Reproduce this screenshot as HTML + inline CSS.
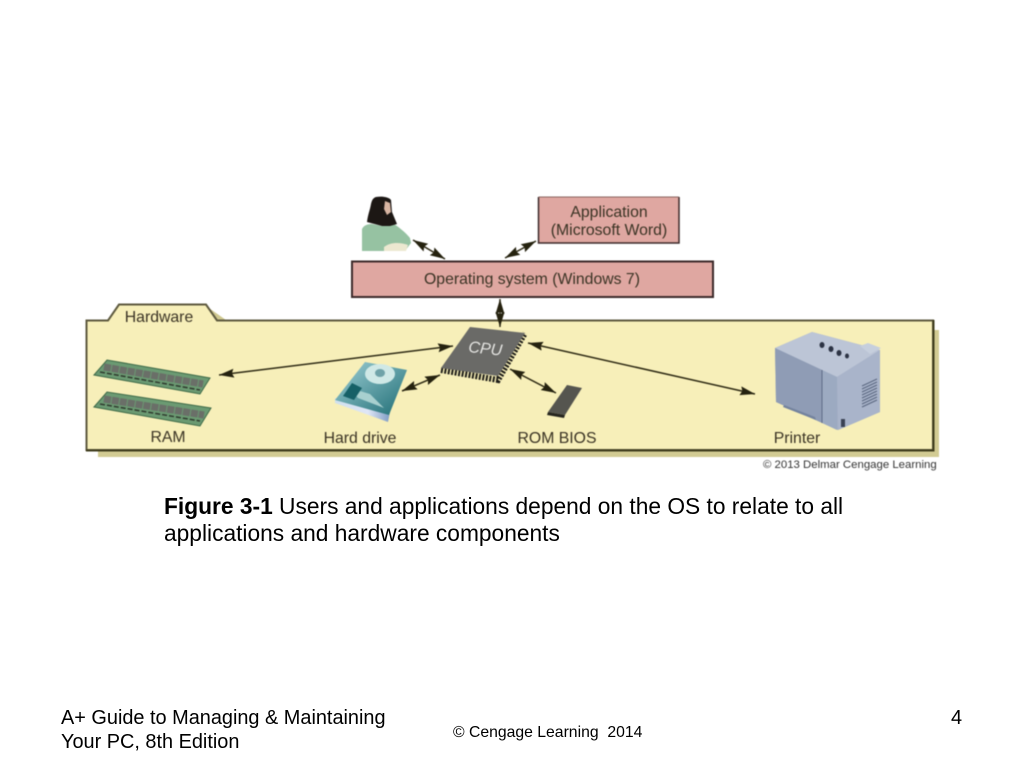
<!DOCTYPE html>
<html>
<head>
<meta charset="utf-8">
<style>
html,body{margin:0;padding:0;background:#fff}
body{width:1024px;height:768px;overflow:hidden;position:relative;font-family:"Liberation Sans",sans-serif}
svg{position:absolute;left:0;top:0;filter:blur(0.45px)}
.t{position:absolute;color:#000;white-space:nowrap}
</style>
</head>
<body>
<svg width="1024" height="768" viewBox="0 0 1024 768" font-family="Liberation Sans, sans-serif">
<defs>
<marker id="a" markerWidth="15" markerHeight="10" refX="15" refY="5" orient="auto-start-reverse" markerUnits="userSpaceOnUse"><path d="M0 0.500 L15 5 L0 9.500 L2 5 Z" fill="#25220f"/></marker>
<linearGradient id="hd" x1="0" y1="0" x2="1" y2="1"><stop offset="0" stop-color="#9fd0d6"/><stop offset="1" stop-color="#1f6d75"/></linearGradient>
<linearGradient id="hb" x1="0" y1="0" x2="1" y2="0"><stop offset="0" stop-color="#cfe0ee"/><stop offset="0.6" stop-color="#dfe6f6"/><stop offset="1" stop-color="#7f9cc4"/></linearGradient>
</defs>
<!-- shadow -->
<path d="M98 330H939V457H98Z" fill="#d2cb93"/>
<path d="M206 306L226 320H212Z" fill="#cfc88f"/>
<!-- folder -->
<path d="M86.500 320.500H108L119 304.500H206L217 320.500H933V450H86.500Z" fill="#f7efb9" stroke="#5e5a3f" stroke-width="2"/>
<path d="M86 450.500H933.500V320" fill="none" stroke="#3f3c1c" stroke-width="2"/>
<!-- boxes -->
<path d="M538.500 197V243H679V197" fill="#dfa7a1" stroke="#3c2a2a" stroke-width="1.500"/>
<path d="M538.500 197H679" stroke="#8a6660" stroke-width="1"/>
<rect x="352" y="261.500" width="361" height="35.500" fill="#dfa7a1" stroke="#3c2a2a" stroke-width="2"/>
<!-- person -->
<path d="M362 251V229C364 225 368 224 372 224L382 226L394 224C400 228 406 233 410 238L411 243L405 251Z" fill="#96c2a2"/>
<path d="M384 247C390 242 400 242 408 245L406 251H384Z" fill="#ece8d0"/>
<path d="M376 197C382 196 389 197 391 200L392 212L397 224L390 226L382 226L367 222C368 214 370 210 371 204C372 200 373 198 376 197Z" fill="#1c1714"/>
<path d="M385 201L390 203L391 212L387 215L384 209Z" fill="#d8b5a2"/>
<!-- RAM -->
<g>
<path d="M94 375L107 360L210 378L200 394Z" fill="#6b9a72" stroke="#3e6a48"/>
<path d="M104 367L203 384" stroke="#6a6f68" stroke-width="7" stroke-dasharray="7 1" fill="none"/>
<path d="M100 372L200 390" stroke="#2f3a2e" stroke-width="1.500" stroke-dasharray="5 2" fill="none"/>
<path d="M94 407L107 392L211 408L200 426Z" fill="#6b9a72" stroke="#3e6a48"/>
<path d="M104 399L204 415" stroke="#6a6f68" stroke-width="7" stroke-dasharray="7 1" fill="none"/>
<path d="M100 404L200 421" stroke="#2f3a2e" stroke-width="1.500" stroke-dasharray="5 2" fill="none"/>
</g>
<!-- Hard drive -->
<path d="M335 398L390 412L388 422L335 403Z" fill="url(#hb)"/>
<path d="M335 400L365 362L407 370L389 415Z" fill="url(#hd)"/>
<ellipse cx="380" cy="374" rx="15" ry="10" fill="#cfe8e6"/>
<ellipse cx="380" cy="373" rx="5" ry="4" fill="#6fa2a8"/>
<path d="M350 388L370 394L384 408L358 398Z" fill="#a8d0cf"/>
<path d="M343 396L352 383L362 388L354 400Z" fill="#166067"/>
<!-- CPU -->
<path d="M441 370L498 380L525 333" fill="none" stroke="#1f1e19" stroke-width="6" stroke-dasharray="2 1.500"/>
<path d="M441 368L470 327L525 333L498 376Z" fill="#6a6a67"/>
<text x="468" y="352" font-size="16" font-style="italic" fill="#e6e6e3" transform="rotate(6 468 352)">CPU</text>
<!-- ROM -->
<path d="M548 412L567 385L582 388L565 415Z" fill="#55554f"/>
<path d="M548 412L565 415L564 418L547 415Z" fill="#26261f"/>
<!-- Printer -->
<path d="M775 348L812 332L880 350L880 412L838 430L776 402Z" fill="#a0acc2"/>
<path d="M775 348L812 332L880 350L837 377Z" fill="#bcc5d6"/>
<path d="M775 348L822 370V423L776 402Z" fill="#8f9cb5"/>
<path d="M822 370L837 377V430L822 423Z" fill="#9caac1"/>
<path d="M837 377L880 350V412L838 430Z" fill="#a9b4ca"/>
<path d="M822 370V423" stroke="#5e6c86" stroke-width="1"/>
<path d="M784 405L815 417L816 420L783 407Z" fill="#74839e"/>
<g stroke="#59667f" stroke-width="1"><path d="M862 386L877 379M862 389L877 382M862 392L877 385M862 395L877 388M862 398L877 391M862 401L877 394M862 404L877 397M862 407L877 400"/></g>
<g fill="#2c3344"><ellipse cx="822" cy="345" rx="2.500" ry="3"/><ellipse cx="831" cy="349" rx="2.500" ry="3"/><ellipse cx="839" cy="353" rx="2.500" ry="3"/><ellipse cx="847" cy="356" rx="2" ry="2.500"/></g>
<path d="M860 346L868 343L881 348L870 354Z" fill="#c6cfdd"/>
<rect x="841" y="419" width="4" height="8" fill="#3a4254"/>
<!-- arrows -->
<g stroke="#2e2a14" stroke-width="1.500" fill="none">
<line x1="413" y1="240" x2="445" y2="259" marker-start="url(#a)" marker-end="url(#a)"/>
<line x1="536" y1="241" x2="505" y2="258" marker-start="url(#a)" marker-end="url(#a)"/>
<line x1="500" y1="299" x2="500" y2="327" marker-start="url(#a)" marker-end="url(#a)"/>
<line x1="219" y1="375" x2="453" y2="346" marker-start="url(#a)" marker-end="url(#a)"/>
<line x1="402" y1="391" x2="440" y2="375" marker-start="url(#a)" marker-end="url(#a)"/>
<line x1="510" y1="369" x2="556" y2="393" marker-start="url(#a)" marker-end="url(#a)"/>
<line x1="528" y1="343" x2="755" y2="394" marker-start="url(#a)" marker-end="url(#a)"/>
</g>
<!-- labels -->
<g fill="#3a3324" font-size="15.800" text-anchor="middle">
<text x="609" y="217">Application</text>
<text x="609" y="235">(Microsoft Word)</text>
<text x="532" y="284">Operating system (Windows 7)</text>
<text x="159" y="322">Hardware</text>
<text x="168" y="442">RAM</text>
<text x="360" y="443">Hard drive</text>
<text x="557" y="443">ROM BIOS</text>
<text x="797" y="443">Printer</text>
</g>
<text x="763" y="468" font-size="11.400" fill="#333">© 2013 Delmar Cengage Learning</text>
</svg>
<div class="t" style="left:164px;top:493px;font-size:22.750px;line-height:27px"><b>Figure 3-1</b> Users and applications depend on the OS to relate to all<br>applications and hardware components</div>
<div class="t" style="left:61px;top:706px;font-size:19.900px;line-height:24px">A+ Guide to Managing &amp; Maintaining<br>Your PC, 8th Edition</div>
<div class="t" style="left:453px;top:724px;font-size:15.750px;line-height:17px;white-space:pre">© Cengage Learning  2014</div>
<div class="t" style="left:951px;top:706px;font-size:19.900px;line-height:24px">4</div>
</body>
</html>
